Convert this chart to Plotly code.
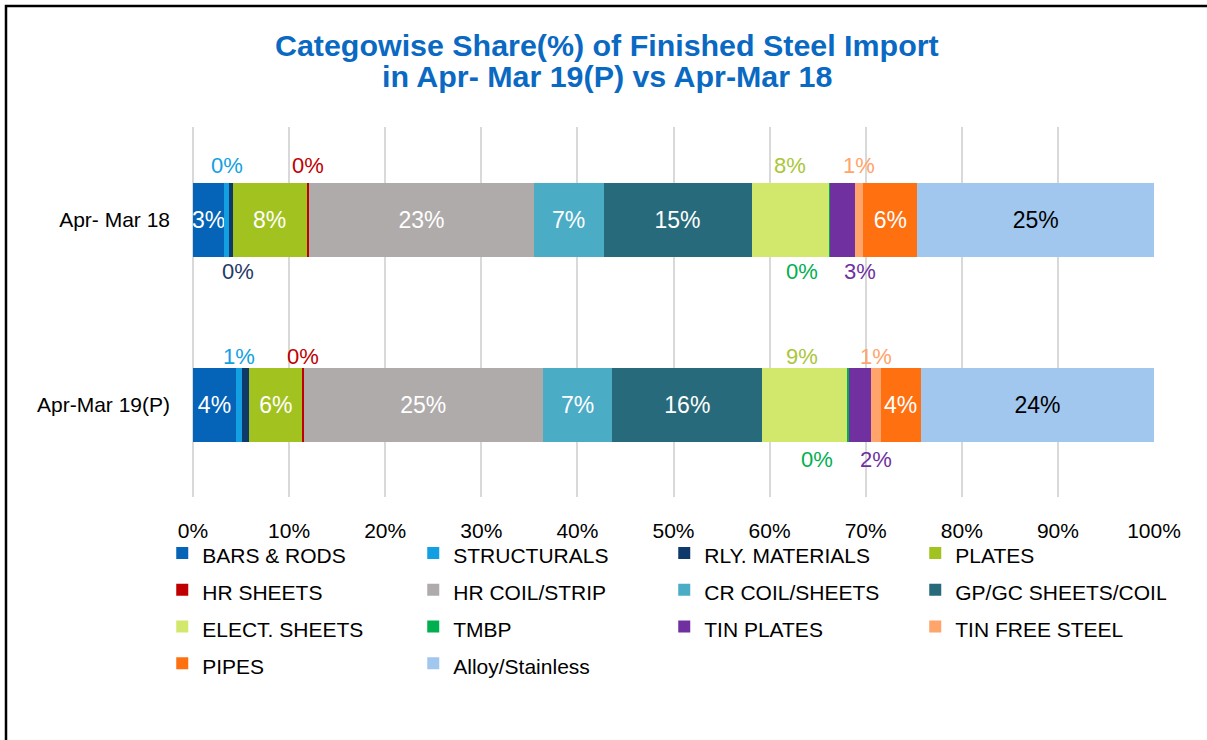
import plotly.graph_objects as go

# ---------------- data ----------------
categories = ["Apr-Mar 19(P)", "Apr- Mar 18"]   # bottom -> top
series_names = ["BARS & RODS", "STRUCTURALS", "RLY. MATERIALS", "PLATES", "HR SHEETS",
                "HR COIL/STRIP", "CR COIL/SHEETS", "GP/GC SHEETS/COIL", "ELECT. SHEETS",
                "TMBP", "TIN PLATES", "TIN FREE STEEL", "PIPES", "Alloy/Stainless"]
share_19 = [4.47, 0.62, 0.76, 5.55, 0.10, 24.9, 7.24, 15.6, 8.9, 0.10, 2.3, 1.0, 4.2, 24.26]
share_18 = [3.26, 0.49, 0.38, 7.70, 0.24, 23.4, 7.25, 15.4, 8.1, 0.05, 2.6, 0.9, 5.6, 24.63]
x_ticks = [0, 10, 20, 30, 40, 50, 60, 70, 80, 90, 100]
title_lines = ["Categowise Share(%) of Finished Steel Import", "in Apr- Mar 19(P) vs Apr-Mar 18"]

# ---------------- style ----------------
colors = ["#0563B8", "#12A0E3", "#0D3A6A", "#A2C21F", "#C00000", "#AFABAB", "#4BACC6",
          "#276A7B", "#D1E86C", "#00B050", "#7030A0", "#FFA46B", "#FF7011", "#A2C7EF"]
label_colors = ["#FFFFFF", "#12A0E3", "#1F3A66", "#FFFFFF", "#C00000", "#FFFFFF", "#FFFFFF",
                "#FFFFFF", "#A9C638", "#00B050", "#7030A0", "#FFA46B", "#FFFFFF", "#000000"]
inside = [True, False, False, True, False, True, True, True, False, False, False, False, True, True]
# outside label placement: series index -> (position, xshift px)
outside_18 = {1: ("above", 0), 2: ("below", 7), 4: ("above", 0), 8: ("above", 0),
              9: ("below", -28), 10: ("below", 18), 11: ("above", 0)}
outside_19 = {1: ("above", 0), 4: ("above", 0), 8: ("above", -3),
              9: ("below", -31), 10: ("below", 16), 11: ("above", 0)}
row_shift = [(48, -55), (54, -52)]  # (above, below) yshift for 19 and 18 rows
title_y_px = [45, 76]
FONT = "Liberation Sans, Arial, sans-serif"

fig = go.Figure()
for i, name in enumerate(series_names):
    vals = [share_19[i], share_18[i]]
    fig.add_trace(go.Bar(
        y=categories, x=vals, orientation="h",
        name=f'<span style="font-size:21px">{name}</span>',
        marker=dict(color=colors[i], line=dict(width=0)),
        text=[f"{round(v)}%" for v in vals] if inside[i] else None,
        textposition="inside" if inside[i] else "none",
        insidetextanchor="middle", textangle=0, constraintext="none",
        textfont=dict(family=FONT, size=23, color=label_colors[i]),
        hovertemplate=f"{name}: %{{x}}%<extra></extra>",
    ))

# outside data labels via annotations at bar centres
for row_idx, (vals, spec) in enumerate([(share_19, outside_19), (share_18, outside_18)]):
    cum = 0
    for i, v in enumerate(vals):
        centre = cum + v / 2
        cum += v
        if i in spec:
            pos, xs = spec[i]
            fig.add_annotation(
                x=centre, y=categories[row_idx], xref="x", yref="y",
                text=f"{round(v)}%", showarrow=False,
                xshift=xs, yshift=row_shift[row_idx][0] if pos == "above" else row_shift[row_idx][1],
                font=dict(family=FONT, size=22, color=label_colors[i]),
            )

# title lines as annotations
for line, ypx in zip(title_lines, title_y_px):
    fig.add_annotation(
        x=(607 - 193) / 961, y=(497 - ypx) / 370, xref="paper", yref="paper",
        xanchor="center", yanchor="middle", showarrow=False,
        text=f"<b>{line}</b>",
        font=dict(family=FONT, size=30.4, color="#0A69C2"),
    )

fig.update_layout(
    width=1207, height=740,
    barmode="stack", bargap=0.6,
    paper_bgcolor="white", plot_bgcolor="white",
    margin=dict(l=193, r=53, t=127, b=243),
    font=dict(family=FONT, size=21, color="#000000"),
    xaxis=dict(
        range=[0, 100], tickvals=x_ticks, ticktext=[f"{t}%" for t in x_ticks],
        showgrid=True, gridcolor="#D9D9D9", gridwidth=1.5,
        zeroline=True, zerolinecolor="#D9D9D9", zerolinewidth=1.5,
        showline=False, ticks="", ticklabelstandoff=19,
        tickfont=dict(family=FONT, size=21, color="#000000"), fixedrange=True,
    ),
    yaxis=dict(
        categoryorder="array", categoryarray=categories,
        showgrid=False, showline=False, ticks="", ticklabelstandoff=22,
        tickfont=dict(family=FONT, size=21, color="#000000"), fixedrange=True,
    ),
    legend=dict(
        orientation="h", x=-0.032, xanchor="left", y=-0.088, yanchor="top",
        entrywidth=206, entrywidthmode="pixels", traceorder="normal",
        bgcolor="rgba(0,0,0,0)",
        font=dict(family=FONT, size=26, color="#000000"),
        itemclick=False, itemdoubleclick=False,
    ),
    showlegend=True,
    shapes=[dict(type="rect", xref="paper", yref="paper",
                 x0=(6 - 193) / 961, x1=(1215 - 193) / 961,
                 y0=(497 - 760) / 370, y1=(497 - 6) / 370,
                 line=dict(color="#000000", width=2.5), fillcolor="rgba(0,0,0,0)", layer="below")],
)

fig.write_html("out.html", config={"displayModeBar": False},
               post_script="document.body.style.margin='0';")
